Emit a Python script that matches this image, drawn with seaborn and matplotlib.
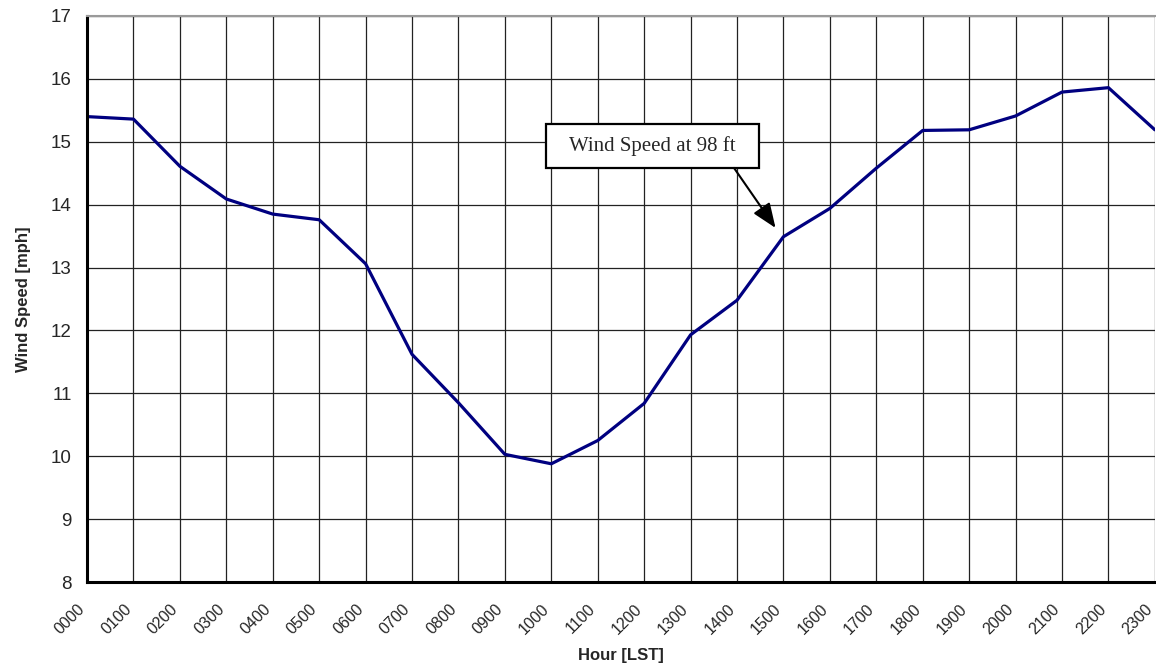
import pandas as pd
import matplotlib.pyplot as plt
import matplotlib.transforms as mtransforms
from matplotlib.patches import Rectangle
import seaborn as sns

# hourly mean wind speed at 98 ft
hours = ['0000', '0100', '0200', '0300', '0400', '0500', '0600', '0700',
         '0800', '0900', '1000', '1100', '1200', '1300', '1400', '1500',
         '1600', '1700', '1800', '1900', '2000', '2100', '2200', '2300']
speed = [15.40, 15.36, 14.61, 14.09, 13.85, 13.76, 13.06, 11.62,
         10.85, 10.03, 9.88, 10.25, 10.84, 11.93, 12.48, 13.49,
         13.94, 14.58, 15.18, 15.19, 15.41, 15.79, 15.86, 15.19]
y_ticks = [8, 9, 10, 11, 12, 13, 14, 15, 16, 17]

df = pd.DataFrame({'pos': range(len(hours)), 'hour': hours, 'speed': speed})

sns.set_style('white')
plt.rcParams['font.family'] = ['Liberation Sans', 'DejaVu Sans']

fig = plt.figure(figsize=(11.56, 6.71), dpi=100)
ax = fig.add_axes([0.0753, 0.1326, 0.9237, 0.8436])

sns.lineplot(data=df, x='pos', y='speed', color='#000080', linewidth=2.3, ax=ax)

ax.set_xlim(0, len(hours) - 1)
ax.set_ylim(8, 17)
ax.set_xticks(df['pos'])
ax.set_xticklabels(hours, rotation=45, ha='right', va='top', rotation_mode='anchor', fontsize=11.5)
ax.set_yticks(y_ticks)
ax.set_yticklabels([str(v) for v in y_ticks], fontsize=13.5)

ax.grid(True, color='#222222', linewidth=0.9)
ax.set_axisbelow(True)

ax.spines['right'].set_visible(False)
ax.spines['top'].set_color('#9a9a9a')
ax.spines['top'].set_linewidth(1.5)
ax.spines['left'].set_linewidth(2.2)
ax.spines['bottom'].set_linewidth(2.2)
ax.spines['left'].set_color('black')
ax.spines['bottom'].set_color('black')
ax.tick_params(axis='both', direction='out', length=4, width=2, color='black')
ax.tick_params(axis='y', pad=7)
ax.tick_params(axis='x', pad=10)

# nudge rotated hour labels left like the original (after tick_params, which resets transforms)
shift = mtransforms.ScaledTranslation(-7 / 72, 0, fig.dpi_scale_trans)
for lbl in ax.get_xticklabels():
    lbl.set_transform(lbl.get_transform() + shift)

ax.set_xlabel('Hour [LST]', fontsize=12, fontweight='bold', labelpad=8)
ax.set_ylabel('Wind Speed [mph]', fontsize=12, fontweight='bold', labelpad=14)

# callout box + arrow
ax.add_patch(Rectangle((9.89, 14.584), 4.58, 0.70, fc='white', ec='black', lw=1.6, zorder=4))
ax.text(12.18, 14.93, 'Wind Speed at 98 ft', ha='center', va='center', fontsize=15,
        family='Liberation Serif', zorder=5)
ax.annotate('', xy=(14.83, 13.63), xytext=(13.935, 14.584),
            arrowprops=dict(arrowstyle='-|>,head_length=1.5,head_width=0.6', color='black', lw=1.5,
                            shrinkA=0, shrinkB=0), zorder=5)

plt.savefig('out.png', dpi=100)
